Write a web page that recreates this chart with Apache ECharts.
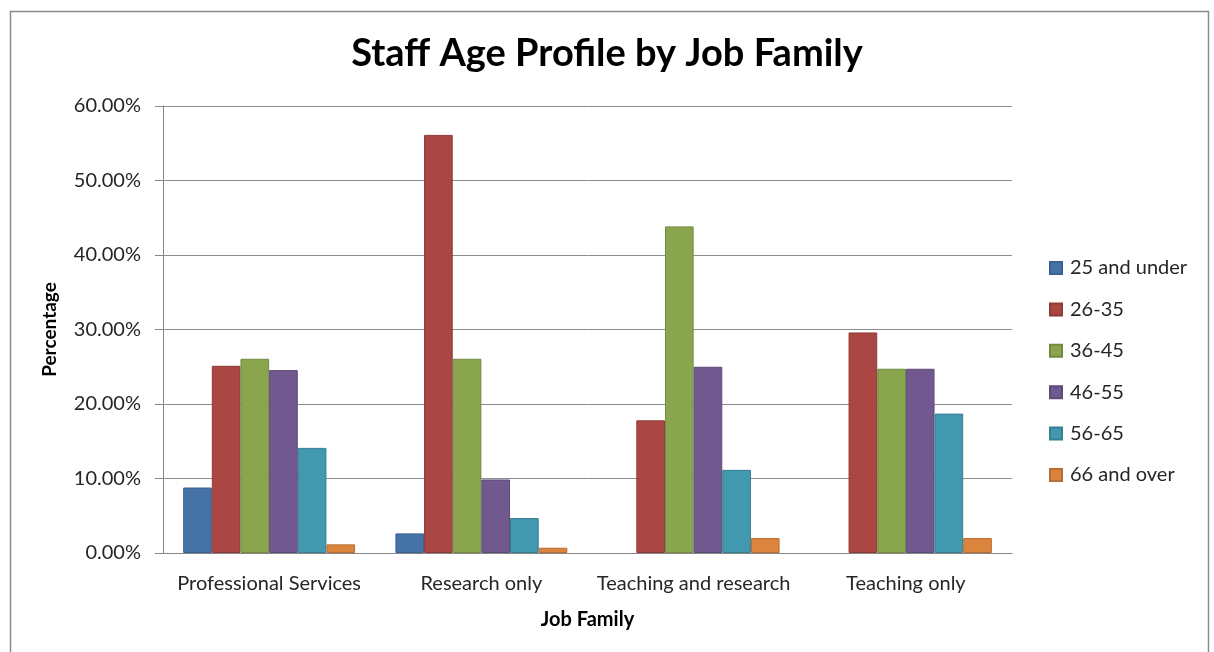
<!DOCTYPE html>
<html><head><meta charset="utf-8">
<script src="https://cdn.jsdelivr.net/npm/echarts@6/dist/echarts.min.js"></script>
<style>html,body{margin:0;padding:0;background:#fff}#c{width:1214px;height:652px}</style>
</head><body><div id="c"></div>
<script>
const categories = ['Professional Services', 'Research only', 'Teaching and research', 'Teaching only'];
const seriesNames = ['25 and under', '26-35', '36-45', '46-55', '56-65', '66 and over'];
const v25Under = [8.79, 2.63, 0, 0];
const v26to35 = [25.13, 56.12, 17.81, 29.60];
const v36to45 = [26.07, 26.07, 43.84, 24.73];
const v46to55 = [24.55, 9.87, 25.00, 24.73];
const v56to65 = [14.11, 4.69, 11.16, 18.71];
const v66Over = [1.16, 0.71, 2.01, 2.01];
const yTicks = [0, 10, 20, 30, 40, 50, 60];

const values = [v25Under, v26to35, v36to45, v46to55, v56to65, v66Over];
const colors = ['#4572A7', '#AA4643', '#89A54E', '#71588F', '#4198AF', '#DB843D'];
const borders = ['#3A6090', '#8E3A37', '#728B41', '#5E4A78', '#367F93', '#B86E33'];
const font = 'Lato, Calibri, Carlito, sans-serif';
const textColor = '#262626';

const chart = echarts.init(document.getElementById('c'));
chart.setOption({
  animation: false,
  textStyle: { fontFamily: font },
  title: {
    text: 'Staff Age Profile by Job Family',
    left: 'center', top: 30,
    textStyle: { fontFamily: font, fontSize: 38, fontWeight: 'bold', color: '#000' }
  },
  graphic: [{
    type: 'rect', left: 8, top: 9, shape: { width: 1198, height: 660 },
    style: { fill: 'none', stroke: '#8c8c8c', lineWidth: 1.5 }, silent: true
  }],
  legend: {
    orient: 'vertical', left: 1044, top: 253, itemGap: 21.4,
    itemWidth: 12, itemHeight: 12, icon: 'rect',
    textStyle: { fontFamily: font, fontSize: 20, color: textColor, padding: [0, 0, 0, 3] },
    data: seriesNames
  },
  grid: { left: 163, right: 202, top: 106, bottom: 99, containLabel: false },
  xAxis: {
    type: 'category', data: categories,
    name: 'Job Family', nameLocation: 'middle', nameGap: 57,
    nameTextStyle: { fontFamily: font, fontSize: 20, fontWeight: 'bold', color: '#000' },
    axisLine: { lineStyle: { color: '#868686', width: 1 } },
    axisTick: { show: false },
    axisLabel: { fontFamily: font, fontSize: 20, color: textColor, margin: 21, interval: 0 }
  },
  yAxis: {
    type: 'value', min: yTicks[0], max: yTicks[yTicks.length - 1], interval: 10,
    name: 'Percentage', nameLocation: 'middle', nameGap: 104, nameRotate: 90,
    nameTextStyle: { fontFamily: font, fontSize: 19, fontWeight: 'bold', color: '#000' },
    axisLine: { show: true, lineStyle: { color: '#868686', width: 1 } },
    axisTick: { show: true, length: 8, inside: false, lineStyle: { color: '#868686' } },
    axisLabel: { fontFamily: font, fontSize: 20, color: textColor, margin: 22,
      formatter: v => v.toFixed(2) + '%' },
    splitLine: { lineStyle: { color: '#8c8c8c', width: 1 } }
  },
  series: seriesNames.map((n, i) => ({
    name: n, type: 'bar', data: values[i].map(v => v === 0 ? '-' : v),
    barGap: '0%', barCategoryGap: '19%',
    itemStyle: { color: colors[i], borderColor: borders[i], borderWidth: 1 }
  }))
});
</script></body></html>
